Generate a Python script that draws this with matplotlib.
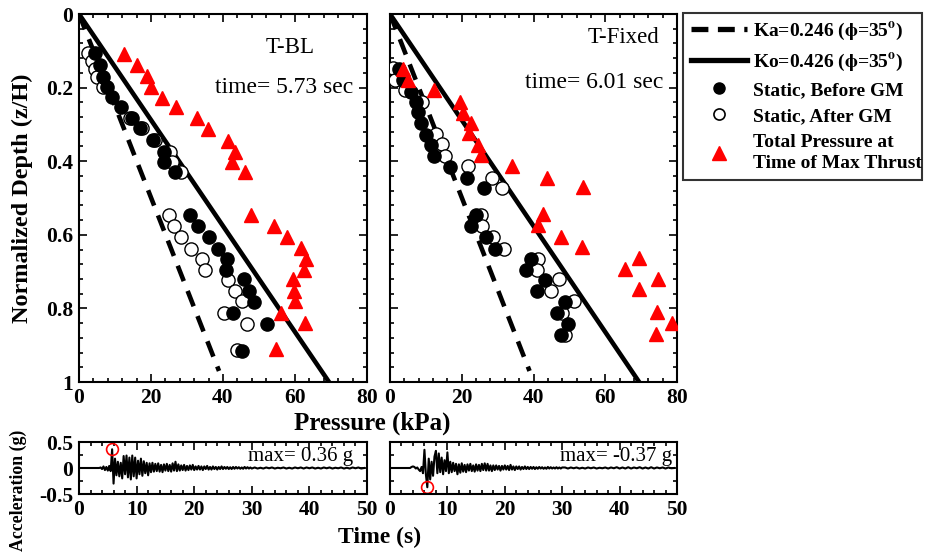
import numpy as np
import matplotlib
matplotlib.use("Agg")
from matplotlib import pyplot as plt
from matplotlib.lines import Line2D
from matplotlib.ticker import MultipleLocator

plt.rcParams['font.family'] = ['Liberation Serif', 'DejaVu Serif']
plt.rcParams['mathtext.fontset'] = 'stix'

Ka = 0.246
Ko = 0.426
gammaH = 163.0

# ---- T-BL (left) ----
bl_before_p = [4.4, 5.8, 6.8, 7.7, 9.1, 11.7, 14.6, 16.9, 20.6, 23.7, 23.7, 26.7,
               30.8, 33.1, 36.2, 38.5, 41.1, 40.8, 45.8, 47.3, 48.5, 42.8, 52.2, 45.2]
bl_before_z = [0.107, 0.139, 0.170, 0.199, 0.225, 0.254, 0.283, 0.311, 0.342, 0.374, 0.401, 0.428,
               0.546, 0.576, 0.607, 0.639, 0.667, 0.696, 0.721, 0.753, 0.783, 0.813, 0.842, 0.915]
bl_after_p = [2.6, 3.5, 4.4, 4.9, 6.8, 14.2, 17.4, 21.0, 25.3, 25.7, 28.3,
              25.1, 26.5, 28.3, 31.1, 34.2, 35.0, 41.3, 43.4, 45.2, 40.2, 46.8, 43.9]
bl_after_z = [0.107, 0.128, 0.149, 0.170, 0.199, 0.283, 0.311, 0.342, 0.374, 0.401, 0.428,
              0.546, 0.576, 0.607, 0.639, 0.667, 0.696, 0.723, 0.752, 0.781, 0.812, 0.842, 0.913]
bl_total_p = [12.6, 16.0, 18.8, 20.0, 23.1, 26.9, 32.7, 35.9, 41.3, 43.3, 42.6, 46.1,
              47.7, 54.3, 57.9, 61.7, 63.1, 62.4, 59.4, 59.8, 60.1, 56.0, 62.8, 54.8]
bl_total_z = [0.109, 0.139, 0.168, 0.199, 0.227, 0.254, 0.283, 0.313, 0.344, 0.374, 0.401, 0.428,
              0.545, 0.576, 0.606, 0.635, 0.666, 0.696, 0.721, 0.752, 0.781, 0.812, 0.841, 0.911]

# ---- T-Fixed (right) ----
fx_before_p = [2.5, 3.6, 5.9, 7.3, 7.8, 8.7, 10.1, 11.5, 12.3, 16.7, 21.4, 26.2,
               23.9, 22.6, 26.7, 29.3, 39.2, 37.8, 43.2, 41.1, 48.8, 46.6, 49.7, 47.7]
fx_before_z = [0.150, 0.179, 0.211, 0.238, 0.265, 0.297, 0.329, 0.356, 0.386, 0.415, 0.447, 0.474,
               0.546, 0.576, 0.607, 0.639, 0.667, 0.696, 0.723, 0.752, 0.783, 0.812, 0.842, 0.872]
fx_after_p = [0.9, 1.4, 4.2, 9.0, 12.8, 14.6, 15.3, 21.8, 28.3, 31.1,
              25.4, 25.7, 28.8, 31.9, 41.2, 40.9, 47.1, 44.8, 51.4, 47.9, 48.8]
fx_after_z = [0.148, 0.179, 0.207, 0.238, 0.327, 0.354, 0.386, 0.413, 0.447, 0.474,
              0.546, 0.576, 0.607, 0.639, 0.667, 0.696, 0.721, 0.752, 0.781, 0.813, 0.872]
fx_total_p = [3.6, 5.0, 12.3, 19.4, 20.3, 22.7, 22.0, 24.5, 25.3, 34.0, 43.7, 53.9,
              42.7, 41.3, 47.6, 53.4, 69.4, 65.5, 74.6, 69.4, 74.3, 78.5, 74.1]
fx_total_z = [0.150, 0.179, 0.207, 0.238, 0.268, 0.297, 0.324, 0.355, 0.383, 0.412, 0.446, 0.471,
              0.544, 0.573, 0.605, 0.634, 0.664, 0.694, 0.720, 0.748, 0.810, 0.839, 0.870]

# ---- input acceleration, sampled every 0.25 s from 3.5 s ----
acc_bl = [0.00, 0.01, -0.02, 0.03, -0.04, 0.02, -0.05, 0.04, -0.06, 0.36,
          -0.30, 0.18, -0.14, 0.12, -0.16, 0.10, -0.20, 0.23, -0.12, 0.24,
          -0.18, 0.20, -0.22, 0.24, -0.16, 0.20, -0.20, 0.14, -0.12, 0.18,
          -0.15, 0.13, -0.10, 0.10, -0.14, 0.09, -0.08, 0.10, -0.07, 0.08,
          -0.06, 0.09, -0.07, 0.06, -0.08, 0.07, -0.05, 0.08, -0.06, 0.06,
          -0.07, 0.09, -0.05, 0.12, -0.06, 0.07, -0.05, 0.05, -0.04, 0.06,
          -0.05, 0.04, -0.04, 0.05, -0.03, 0.06, -0.04, 0.03, -0.03, 0.04,
          -0.03, 0.03, -0.04, 0.03, -0.02, 0.04, -0.03, 0.02, -0.03, 0.03,
          -0.02, 0.02, -0.03, 0.02, -0.02, 0.03, -0.02, 0.02, -0.015, 0.02,
          -0.02, 0.015, -0.02, 0.02, -0.015, 0.02, -0.01, 0.015, -0.015, 0.01,
          -0.015, 0.02, -0.01, 0.015, -0.01, 0.01, -0.01]
acc_fx = [0.00, 0.02, 0.03, 0.02, -0.01, 0.01, -0.03, -0.06, 0.02, -0.10,
          0.35, -0.12, -0.37, 0.18, -0.22, 0.12, -0.15, 0.22, 0.33, -0.10,
          0.28, -0.08, 0.20, -0.12, 0.15, -0.06, 0.30, -0.10, 0.12, -0.08,
          0.10, -0.06, 0.08, -0.12, 0.07, -0.09, 0.09, -0.07, 0.06, -0.08,
          0.07, -0.05, 0.08, -0.06, 0.05, -0.07, 0.07, -0.05, 0.06, -0.06,
          0.08, -0.04, 0.09, -0.05, 0.08, -0.05, 0.05, -0.06, 0.05, -0.04,
          0.05, -0.03, 0.04, -0.05, 0.04, -0.03, 0.05, -0.03, 0.04, -0.04,
          0.06, -0.03, 0.03, -0.04, 0.03, -0.02, 0.03, -0.03, 0.02, -0.02,
          0.03, -0.02, 0.02, -0.02, 0.02, -0.015, 0.02, -0.02, 0.015, -0.015,
          0.02, -0.01, 0.015, -0.015, 0.01, -0.015, 0.02, -0.01, 0.015, -0.01,
          0.01, -0.01, 0.015, -0.01, 0.01, -0.01, 0.01]
# quiet tail, every 0.5 s from 30.5 s
tail_bl = [0.01, -0.01, 0.005, -0.01, 0.01, -0.005, 0.01, -0.01, 0.005, -0.005,
           0.01, -0.01, 0.005, -0.01, 0.01, -0.005, 0.01, -0.01, 0.01, -0.005,
           0.01, -0.01, 0.005, -0.01, 0.01, -0.005, 0.01, -0.01, 0.005, -0.005,
           0.01, -0.01, 0.005, -0.01, 0.01, -0.005, 0.01, -0.01, 0.0]
tail_fx = [0.01, -0.01, 0.01, -0.005, 0.01, -0.01, 0.005, -0.01, 0.01, -0.005,
           0.01, -0.01, 0.005, -0.005, 0.01, -0.01, 0.01, -0.005, 0.015, -0.01,
           0.01, -0.01, 0.015, -0.01, 0.01, -0.005, 0.015, -0.01, 0.01, -0.01,
           0.015, -0.01, 0.01, -0.005, 0.01, -0.01, 0.01, -0.005, 0.0]
max_bl = (5.75, 0.36)
max_fx = (6.5, -0.37)


def acc_series(vals, tail):
    t = np.concatenate([[0.0], 3.5 + 0.25 * np.arange(len(vals)),
                        30.5 + 0.5 * np.arange(len(tail))])
    a = np.concatenate([[0.0], vals, tail])
    return t, a


fig = plt.figure(figsize=(9.25, 5.52), dpi=100)
W, H = 925.0, 552.0


def box(x0, y0, x1, y1):
    return [x0 / W, 1 - y1 / H, (x1 - x0) / W, (y1 - y0) / H]


ax1 = fig.add_axes(box(79, 14, 367, 382))
ax2 = fig.add_axes(box(390, 14, 677, 382))
ac1 = fig.add_axes(box(79, 442, 367, 494))
ac2 = fig.add_axes(box(390, 442, 677, 494))

zline = np.array([0.0, 1.0])
panels = [(ax1, bl_before_p, bl_before_z, bl_after_p, bl_after_z, bl_total_p, bl_total_z,
           'T-BL', (0.734, 0.91), 'time= 5.73 sec', (0.951, 0.80)),
          (ax2, fx_before_p, fx_before_z, fx_after_p, fx_after_z, fx_total_p, fx_total_z,
           'T-Fixed', (0.815, 0.935), 'time= 6.01 sec', (0.951, 0.815))]
for ax, bp, bz, ap, az, tp, tz, name, npos, tlabel, tpos in panels:
    ax.plot(Ka * gammaH * np.array([0.0, 0.97]), [0.0, 0.97], color='k', lw=3.3,
            dashes=(3.6, 2.3), solid_capstyle='butt', zorder=2)
    ax.plot(Ko * gammaH * zline, zline, color='k', lw=3.3, zorder=2)
    ax.plot(ap, az, 'o', ms=9.5, mfc='white', mec='k', mew=1.0, ls='none', zorder=3)
    ax.plot(bp, bz, 'o', ms=9.5, mfc='k', mec='k', ls='none', zorder=4)
    ax.plot(tp, tz, '^', ms=10.5, mfc='red', mec='red', ls='none', zorder=5)
    ax.set_xlim(0, 80)
    ax.set_ylim(1, 0)
    ax.xaxis.set_major_locator(MultipleLocator(20))
    ax.xaxis.set_minor_locator(MultipleLocator(4))
    ax.yaxis.set_major_locator(MultipleLocator(0.2))
    ax.yaxis.set_minor_locator(MultipleLocator(0.04))
    ax.text(npos[0], npos[1], name, transform=ax.transAxes, ha='center', va='center',
            fontsize=16.5)
    ax.text(tpos[0], tpos[1], tlabel, transform=ax.transAxes, ha='right', va='center',
            fontsize=17)

ax1.set_yticks([0, 0.2, 0.4, 0.6, 0.8, 1.0])
ax1.set_yticklabels(['0', '0.2', '0.4', '0.6', '0.8', '1'])
ax1.set_ylabel('Normalized Depth (z/H)', fontsize=17.5, fontweight='bold')
ax1.yaxis.set_label_coords(-0.16, 0.5)
ax2.tick_params(axis='y', which='both', labelleft=False)

for ac, vals, tail, mx, txt, tx in [(ac1, acc_bl, tail_bl, max_bl, 'max= 0.36 g', 0.951),
                                    (ac2, acc_fx, tail_fx, max_fx, 'max= -0.37 g', 0.983)]:
    t, a = acc_series(vals, tail)
    ac.plot(t, a, color='k', lw=1.5)
    ac.plot([mx[0]], [mx[1]], 'o', ms=8.5, mfc='none', mec='red', mew=1.2)
    ac.set_xlim(0, 50)
    ac.set_ylim(-0.5, 0.5)
    ac.xaxis.set_major_locator(MultipleLocator(10))
    ac.xaxis.set_minor_locator(MultipleLocator(2))
    ac.yaxis.set_major_locator(MultipleLocator(0.5))
    ac.yaxis.set_minor_locator(MultipleLocator(0.25))
    ac.text(tx, 0.72, txt, transform=ac.transAxes, ha='right', va='center', fontsize=15)
ac1.set_yticks([-0.5, 0, 0.5])
ac1.set_yticklabels(['-0.5', '0', '0.5'])
ac2.tick_params(axis='y', which='both', labelleft=False)

for ax in [ax1, ax2, ac1, ac2]:
    ax.tick_params(which='both', direction='in', top=True, right=True, width=1.2)
    ax.tick_params(which='major', length=6, labelsize=15.5, pad=4)
    ax.tick_params(which='minor', length=3)
    for lab in ax.get_xticklabels() + ax.get_yticklabels():
        lab.set_fontweight('bold')
    for s in ax.spines.values():
        s.set_linewidth(1.5)

fig.text(372 / W, 1 - 423 / H, 'Pressure (kPa)', ha='center', va='center',
         fontsize=18, fontweight='bold')
fig.text(380 / W, 1 - 537 / H, 'Time (s)', ha='center', va='center',
         fontsize=17, fontweight='bold')
fig.text(18 / W, 1 - 490 / H, 'Acceleration (g)', ha='center', va='center',
         rotation=90, fontsize=12.8, fontweight='bold')

handles = [Line2D([], [], color='k', lw=3.8, dashes=(3.2, 1.8)),
           Line2D([], [], color='k', lw=3.8),
           Line2D([], [], marker='o', ls='none', ms=8, mfc='k', mec='k'),
           Line2D([], [], marker='o', ls='none', ms=8, mfc='white', mec='k', mew=1.2),
           Line2D([], [], marker='^', ls='none', ms=10, mfc='red', mec='red')]
labels = [r'Ka=0.246 ($\mathbf{\phi}$=35$^\mathbf{o}$)',
          r'Ko=0.426 ($\mathbf{\phi}$=35$^\mathbf{o}$)',
          'Static, Before GM', 'Static, After GM',
          'Total Pressure at\nTime of Max Thrust']
leg = fig.legend(handles, labels, loc='upper left',
                 bbox_to_anchor=(683 / W, 1 - 185 / H, 239 / W, 172 / H), mode='expand',
                 prop={'family': 'Liberation Serif', 'weight': 'bold', 'size': 14},
                 handlelength=2.9, handletextpad=0.3, labelspacing=0.45,
                 borderpad=0.4, borderaxespad=0, fancybox=False, frameon=True)
leg.get_texts()[-1].set_linespacing(1.3)
leg.get_frame().set_edgecolor('k')
leg.get_frame().set_linewidth(1.5)

fig.savefig('out.png', dpi=100)
